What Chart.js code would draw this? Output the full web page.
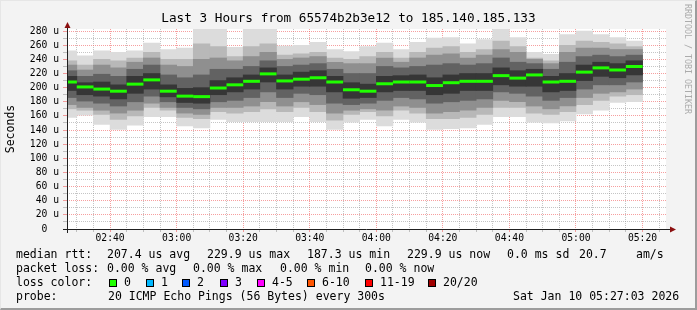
<!DOCTYPE html>
<html>
<head>
<meta charset="utf-8">
<script src="https://cdn.jsdelivr.net/npm/chart.js@4.4.1/dist/chart.umd.min.js"></script>
<style>
  body { margin: 0; background: #fff; }
  #frame {
    position: relative; width: 697px; height: 310px; overflow: hidden;
    background: #f3f3f3; box-sizing: border-box;
    border-top: 1px solid #e6e6e6; border-left: 1px solid #e6e6e6;
    border-right: 2px solid #9c9c9c; border-bottom: 2px solid #9c9c9c;
  }
  #smoke { position: absolute; left: -1px; top: -1px; }
  .txt {
    position: absolute; white-space: pre; color: #000;
    font-family: 'DejaVu Sans Mono', monospace; font-size: 11.5px; line-height: 14px;
  }
  #title { left: 0; width: 695px; text-align: center; top: 10px; font-size: 12.7px; }
  #credit {
    position: absolute; left: 682px; top: 3px; writing-mode: vertical-rl;
    font-family: 'DejaVu Sans Mono', monospace; font-size: 8.3px; color: #ababab; white-space: pre;
  }
  .box { position: absolute; width: 6px; height: 6px; border: 1px solid #000; }
</style>
</head>
<body>
<div id="frame">
  <canvas id="smoke" width="697" height="310"></canvas>
  <div class="txt" id="title">Last 3 Hours from 65574b2b3e12 to 185.140.185.133</div>
  <div id="credit">RRDTOOL / TOBI OETIKER</div>

  <div class="txt" style="left:15px;top:246px">median rtt:</div>
  <div class="txt" style="left:106px;top:246px">207.4 us avg</div>
  <div class="txt" style="left:206px;top:246px">229.9 us max</div>
  <div class="txt" style="left:306px;top:246px">187.3 us min</div>
  <div class="txt" style="left:406px;top:246px">229.9 us now</div>
  <div class="txt" style="left:506px;top:246px">0.0 ms sd</div>
  <div class="txt" style="left:578px;top:246px">20.7</div>
  <div class="txt" style="left:635px;top:246px">am/s</div>

  <div class="txt" style="left:15px;top:260px">packet loss:</div>
  <div class="txt" style="left:106px;top:260px">0.00 % avg</div>
  <div class="txt" style="left:192px;top:260px">0.00 % max</div>
  <div class="txt" style="left:279px;top:260px">0.00 % min</div>
  <div class="txt" style="left:364px;top:260px">0.00 % now</div>

  <div class="txt" style="left:15px;top:274px">loss color:</div>
  <div id="lossLegend"></div>

  <div class="txt" style="left:15px;top:288px">probe:</div>
  <div class="txt" style="left:107px;top:288px">20 ICMP Echo Pings (56 Bytes) every 300s</div>
  <div class="txt" style="left:512px;top:288px">Sat Jan 10 05:27:03 2026</div>
</div>

<script>
// time window of the graph and 5 minute slots (start of each slot)
var graphStart = '02:27:03'
var graphEnd = '05:27:03'
var slotStart = [
  '02:25', '02:30', '02:35', '02:40', '02:45', '02:50', '02:55',
  '03:00', '03:05', '03:10', '03:15', '03:20', '03:25', '03:30', '03:35', '03:40', '03:45', '03:50', '03:55',
  '04:00', '04:05', '04:10', '04:15', '04:20', '04:25', '04:30', '04:35', '04:40', '04:45', '04:50', '04:55',
  '05:00', '05:05', '05:10', '05:15',
]
var timeLabels = ['02:40', '03:00', '03:20', '03:40', '04:00', '04:20', '04:40', '05:00', '05:20']
var rttLabels = [0, 20, 40, 60, 80, 100, 120, 140, 160, 180, 200, 220, 240, 260, 280]

// median rtt (us)
var medianRtt = [208, 201, 198, 195, 205, 211, 195, 188, 187.3, 199.5, 204, 209, 219.5, 209.5, 212, 214, 208, 197,
  195, 205.5, 208, 208, 203, 207, 209, 209, 217, 213.5, 218, 208, 209, 222, 228, 225, 229.9]

// smoke bands (us): outer = fastest..slowest ping, core = pings around the median
var outerLow = [158, 161, 148, 141, 147, 159, 159, 146, 143, 155, 152, 152, 152, 152, 159, 152, 141, 151,
  155, 146, 155, 151, 141, 142, 143, 148, 159, 159, 151, 150, 153, 163, 168, 179, 180]
var outerHigh = [252, 245, 252, 250, 252, 263, 254, 256, 284, 284, 257, 284, 284, 259, 260, 264, 254, 251,
  258, 263, 254, 264, 270, 271, 262, 268, 284, 271, 250, 247, 275, 280, 275, 271, 266]
var ring2Low = [170, 168, 162, 155, 160, 172, 168, 158, 156, 166, 164, 166, 170, 166, 172, 166, 154, 162,
  166, 160, 168, 164, 156, 156, 158, 162, 172, 172, 164, 162, 166, 176, 182, 188, 190]
var ring2High = [238, 232, 240, 238, 242, 250, 240, 240, 262, 258, 244, 258, 262, 246, 248, 250, 242, 240,
  244, 250, 242, 250, 256, 258, 250, 254, 266, 258, 242, 238, 260, 266, 264, 262, 258]
var ring3Low = [176, 172, 168, 164, 168, 178, 172, 164, 162, 172, 172, 174, 180, 174, 180, 176, 164, 168,
  170, 168, 174, 172, 164, 166, 168, 172, 182, 180, 174, 170, 174, 186, 192, 194, 198]
var ring3High = [232, 225, 232, 228, 236, 242, 232, 230, 240, 242, 238, 244, 250, 240, 242, 244, 236, 234,
  234, 242, 236, 242, 246, 248, 242, 246, 254, 250, 240, 234, 250, 256, 256, 254, 254]
var ring4Low = [186, 181, 178, 174, 180, 188, 180, 172, 170, 180, 182, 186, 194, 186, 192, 190, 178, 176,
  178, 182, 186, 184, 178, 180, 182, 184, 194, 192, 188, 182, 186, 198, 204, 204, 208]
var ring4High = [224, 216, 219, 216, 226, 232, 218, 214, 218, 226, 226, 230, 238, 230, 232, 234, 226, 220,
  220, 230, 228, 230, 232, 234, 232, 234, 242, 236, 234, 226, 236, 244, 246, 244, 246]
var coreLow = [196, 190, 188, 184, 192, 198, 187, 179, 178, 190, 194, 198, 208, 198, 202, 202, 194, 185,
  186, 194, 196, 196, 190, 192, 196, 196, 204, 202, 202, 194, 196, 210, 216, 214, 218]
var coreHigh = [216, 207, 208, 204, 216, 220, 204, 199, 200, 210, 214, 218, 228, 218, 222, 224, 216, 207,
  205, 216, 217, 218, 214, 218, 220, 220, 228, 224, 226, 216, 220, 232, 236, 234, 238]

var lossNames = ['0', '1', '2', '3', '4-5', '6-10', '11-19', '20/20']
var lossColors = ['#20ff00', '#00b8ff', '#0059ff', '#7e00ff', '#ff00ff', '#ff5500', '#ff0000', '#a00000']
var lossBoxX = [109, 146, 182, 220, 257, 307, 365, 428]

function toMin(t) {
  var p = t.split(':').map(Number)
  return p[0] * 60 + p[1] + (p[2] || 0) / 60
}

function slotCenter(t) {
  return toMin(t) + 2.5
}

// loss color legend
var legendHtml = ''
lossNames.forEach(function (name, i) {
  legendHtml += '<div class="box" style="left:' + (lossBoxX[i] - 1) + 'px;top:278px;background:' + lossColors[i] + '"></div>'
  legendHtml += '<div class="txt" style="left:' + (lossBoxX[i] + 14) + 'px;top:274px">' + name + '</div>'
})
document.getElementById('lossLegend').innerHTML = legendHtml

function band(low, high, color, order) {
  return {
    type: 'bar',
    data: slotStart.map(function (t, i) {
      return { x: slotCenter(t), y: [low[i], high[i]] }
    }),
    backgroundColor: color,
    borderWidth: 0,
    barPercentage: 1,
    categoryPercentage: 1,
    stack: 'smoke',
    order: order,
    clip: 0,
  }
}

var plotBackground = {
  id: 'plotBackground',
  beforeDraw: function (chart) {
    var a = chart.chartArea
    var ctx = chart.ctx
    ctx.save()
    ctx.fillStyle = '#ffffff'
    ctx.fillRect(a.left, a.top, a.right - a.left, a.bottom - a.top)
    ctx.restore()
  },
}

// axis lines with arrow heads, like rrdtool
var axisArrows = {
  id: 'axisArrows',
  afterDraw: function (chart) {
    var a = chart.chartArea
    var ctx = chart.ctx
    var x0 = Math.round(a.left) + 0.5
    var y0 = Math.round(a.bottom) + 0.5
    ctx.save()
    ctx.strokeStyle = '#202020'
    ctx.lineWidth = 1
    ctx.beginPath()
    ctx.moveTo(a.left - 4, y0)
    ctx.lineTo(a.right + 4, y0)
    ctx.moveTo(x0, a.bottom + 4)
    ctx.lineTo(x0, a.top - 3)
    ctx.stroke()
    ctx.fillStyle = '#8b1010'
    ctx.beginPath()
    ctx.moveTo(x0, a.top - 7)
    ctx.lineTo(x0 - 3, a.top - 1)
    ctx.lineTo(x0 + 3, a.top - 1)
    ctx.closePath()
    ctx.fill()
    ctx.beginPath()
    ctx.moveTo(a.right + 10, y0)
    ctx.lineTo(a.right + 4, y0 - 3)
    ctx.lineTo(a.right + 4, y0 + 3)
    ctx.closePath()
    ctx.fill()
    ctx.restore()
  },
}

var majorGrid = 'rgba(240, 95, 95, 0.6)'
var minorGrid = 'rgba(140, 140, 140, 0.5)'
var monoFont = 'DejaVu Sans Mono'

new Chart(document.getElementById('smoke'), {
  type: 'bar',
  data: {
    datasets: [
      {
        type: 'line',
        data: slotStart.map(function (t, i) {
          return { x: slotCenter(t), y: medianRtt[i] }
        }),
        showLine: false,
        pointStyle: 'line',
        pointRadius: 8.4,
        pointBorderWidth: 3,
        pointBorderColor: lossColors[0],
        pointBackgroundColor: lossColors[0],
        order: 0,
        clip: 0,
      },
      band(coreLow, coreHigh, '#363636', 1),
      band(ring4Low, ring4High, '#626262', 2),
      band(ring3Low, ring3High, '#8f8f8f', 3),
      band(ring2Low, ring2High, '#b8b8b8', 4),
      band(outerLow, outerHigh, '#dcdcdc', 5),
    ],
  },
  options: {
    responsive: false,
    animation: false,
    devicePixelRatio: 1,
    layout: { padding: { left: 1, top: 29, right: 31, bottom: 61 } },
    plugins: { legend: { display: false }, tooltip: { enabled: false } },
    scales: {
      x: {
        type: 'linear',
        offset: false,
        min: toMin(graphStart),
        max: toMin(graphEnd),
        z: 1,
        afterFit: function (scale) {
          scale.height = 20
        },
        afterBuildTicks: function (scale) {
          var ticks = []
          for (var m = Math.ceil(scale.min / 5) * 5; m <= scale.max; m += 5) ticks.push({ value: m })
          scale.ticks = ticks
        },
        ticks: {
          autoSkip: false,
          maxRotation: 0,
          padding: 1,
          color: '#000',
          font: { family: monoFont, size: 9.7 },
          callback: function (value) {
            var hit = timeLabels.filter(function (l) {
              return Math.abs(toMin(l) - value) < 0.01
            })
            return hit.length ? hit[0] : ''
          },
        },
        grid: {
          offset: false,
          tickLength: 3,
          color: function (ctx) {
            return ctx.tick && ctx.tick.value % 20 === 0 ? majorGrid : minorGrid
          },
        },
        border: { display: false, dash: [1, 1] },
      },
      y: {
        min: 0,
        max: 283,
        stacked: false,
        z: 1,
        afterFit: function (scale) {
          scale.width = 66
        },
        afterBuildTicks: function (scale) {
          var ticks = []
          for (var v = 0; v <= 280; v += 10) ticks.push({ value: v })
          scale.ticks = ticks
        },
        ticks: {
          autoSkip: false,
          padding: 4,
          color: '#000',
          font: { family: monoFont, size: 9.7 },
          callback: function (value) {
            if (rttLabels.indexOf(value) < 0) return ''
            return value === 0 ? '0  ' : value + ' u'
          },
        },
        grid: {
          tickLength: 4,
          color: function (ctx) {
            if (ctx.tick && ctx.tick.value === 0) return 'rgba(0,0,0,0)'
            return ctx.tick && ctx.tick.value % 20 === 0 ? majorGrid : minorGrid
          },
        },
        border: { display: false, dash: [1, 1] },
        title: {
          display: true,
          text: 'Seconds',
          color: '#000',
          font: { family: monoFont, size: 11.5 },
          padding: { top: 3, bottom: 0 },
        },
      },
    },
  },
  plugins: [plotBackground, axisArrows],
})
</script>
</body>
</html>
